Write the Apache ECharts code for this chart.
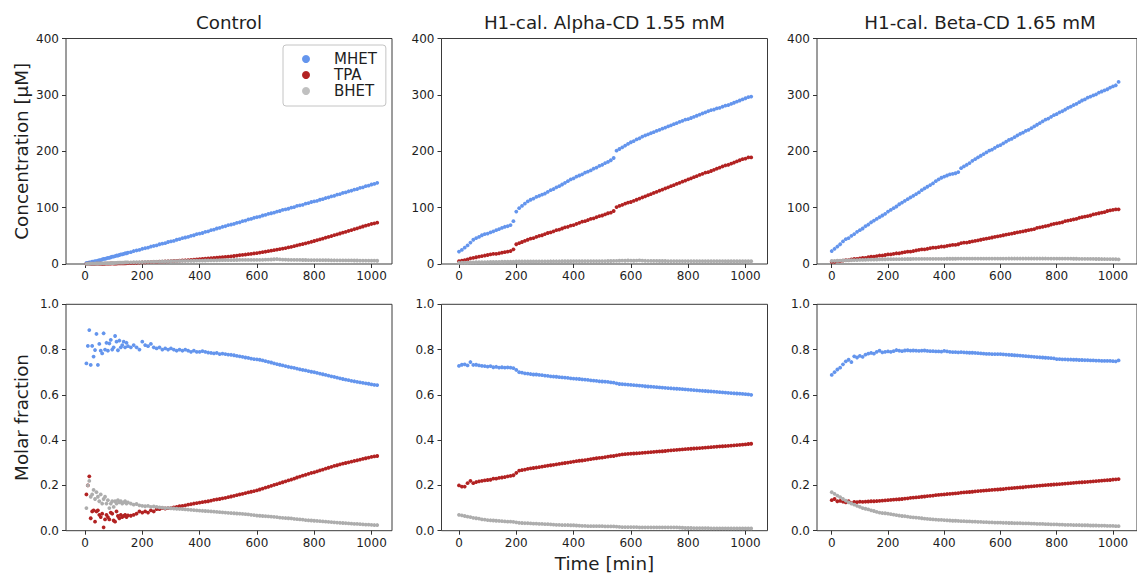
<!DOCTYPE html>
<html><head><meta charset="utf-8">
<script src="https://cdn.jsdelivr.net/npm/echarts@6/dist/echarts.min.js"></script>
<style>html,body{margin:0;padding:0;background:#fff}#c{width:1137px;height:574px}</style>
</head><body><div id="c"></div>
<script>
// ---------------- DATA ----------------
const seriesNames = ['MHET', 'TPA', 'BHET'];
const panelTitles = ['Control', 'H1-cal. Alpha-CD 1.55 mM', 'H1-cal. Beta-CD 1.65 mM'];
const xTickValues = [0, 200, 400, 600, 800, 1000];
const yLabelTop = 'Concentration [μM]';
const yLabelBottom = 'Molar fraction';
const xLabel = 'Time [min]';

const timeControl = [
 5,10,15,20,25,30,35,40,45,50,
 55,60,65,70,75,80,85,90,95,100,
 105,110,115,120,125,130,135,140,145,150,
 160,170,180,190,200,210,220,230,240,250,
 260,270,280,290,300,310,320,330,340,350,
 360,370,380,390,400,410,420,430,440,450,
 460,470,480,490,500,510,520,530,540,550,
 560,570,580,590,600,610,620,630,640,650,
 660,670,680,690,700,710,720,730,740,750,
 760,770,780,790,800,810,820,830,840,850,
 860,870,880,890,900,910,920,930,940,950,
 960,970,980,990,1000,1010,1020];

const timeCD = [
 0,10,20,30,40,50,60,70,80,90,
 100,110,120,130,140,150,160,170,180,190,
 200,210,220,230,240,250,260,270,280,290,
 300,310,320,330,340,350,360,370,380,390,
 400,410,420,430,440,450,460,470,480,490,
 500,510,520,530,540,550,560,570,580,590,
 600,610,620,630,640,650,660,670,680,690,
 700,710,720,730,740,750,760,770,780,790,
 800,810,820,830,840,850,860,870,880,890,
 900,910,920,930,940,950,960,970,980,990,
 1000,1010,1020];

// Control – concentration [µM]
const controlConcMHET = [
 2,2,3,3,4,4,5,5,6,7,
 7,8,9,9,10,11,11,12,13,13,
 14,15,15,16,17,17,18,19,19,20,
 21,23,24,25,27,28,29,31,32,33,
 35,36,37,39,40,41,43,44,46,47,
 48,50,51,53,54,55,57,58,60,61,
 63,64,66,67,69,70,71,73,74,76,
 77,79,80,82,83,84,86,87,89,90,
 91,93,94,96,97,98,100,101,103,104,
 105,107,108,110,111,112,114,115,117,118,
 120,121,123,124,126,127,129,130,132,133,
 135,136,138,139,141,142,144];
const controlConcTPA = [
 0.3,0.5,0.6,0.3,0.4,0.4,0.3,0.5,0.5,0.4,
 0.5,0.3,0.2,0.5,0.7,0.7,0.7,0.9,1.0,0.7,
 0.7,0.9,1.1,1.2,1.1,1.2,1.3,1.3,1.4,1.5,
 1.6,1.8,2.1,2.5,2.9,3.0,3.2,3.4,3.6,3.8,
 4.1,4.3,4.5,4.8,5.0,5.3,5.6,5.9,6.3,6.6,
 7.0,7.4,7.8,8.1,8.5,8.9,9.3,9.8,10.3,10.8,
 11.2,11.7,12.2,12.6,13.0,13.6,14.2,14.9,15.6,16.2,
 16.8,17.4,18.0,18.7,19.4,20.2,21.0,21.8,22.7,23.6,
 24.5,25.4,26.4,27.3,28.3,29.4,30.5,31.7,32.9,34.2,
 35.4,36.7,38.0,39.4,40.8,42.2,43.6,45.1,46.6,48.1,
 49.6,51.1,52.6,54.1,55.6,57.1,58.6,60.1,61.7,63.3,
 64.9,66.5,68.0,69.5,71.0,72.2,73.3];
const controlConcBHET = [
 0.2,0.4,0.6,0.5,0.6,0.8,0.7,0.9,0.9,0.9,
 1.2,1.0,1.2,1.4,1.2,1.5,1.2,1.5,1.7,1.7,
 2.0,2.0,2.3,2.3,2.4,2.4,2.5,2.7,2.8,2.9,
 3.0,3.1,3.2,3.3,3.5,3.6,3.8,3.9,4.0,4.2,
 4.3,4.4,4.6,4.8,4.9,5.0,5.1,5.3,5.4,5.5,
 5.6,5.7,5.8,5.9,6.0,6.1,6.2,6.3,6.4,6.5,
 6.6,6.7,6.8,6.9,7.0,7.0,7.1,7.1,7.2,7.2,
 7.2,7.3,7.3,7.2,7.3,7.4,7.5,7.6,7.8,8.0,
 8.4,8.8,8.2,7.8,7.6,7.5,7.4,7.3,7.3,7.2,
 7.1,7.1,7.0,7.0,7.0,6.9,6.8,6.8,6.7,6.7,
 6.6,6.6,6.5,6.5,6.4,6.4,6.3,6.3,6.2,6.2,
 6.1,6.1,6.0,6.0,5.9,5.9,5.8];

// Control – molar fraction
const controlFracMHET = [
 0.739,0.816,0.886,0.732,0.816,0.769,0.798,0.869,0.732,0.825,
 0.795,0.783,0.872,0.80,0.83,0.795,0.827,0.843,0.80,0.81,
 0.86,0.835,0.797,0.84,0.81,0.82,0.835,0.81,0.83,0.815,
 0.81,0.82,0.81,0.80,0.835,0.82,0.815,0.825,0.81,0.805,
 0.81,0.80,0.805,0.80,0.805,0.80,0.795,0.80,0.795,0.80,
 0.795,0.79,0.795,0.79,0.79,0.793,0.79,0.787,0.785,0.783,
 0.785,0.78,0.782,0.78,0.778,0.777,0.775,0.772,0.77,0.768,
 0.765,0.763,0.76,0.758,0.757,0.755,0.752,0.749,0.746,0.743,
 0.739,0.736,0.733,0.73,0.727,0.724,0.721,0.719,0.716,0.713,
 0.71,0.708,0.705,0.702,0.70,0.697,0.694,0.691,0.688,0.685,
 0.682,0.679,0.676,0.673,0.67,0.667,0.665,0.662,0.66,0.657,
 0.655,0.653,0.651,0.649,0.646,0.644,0.643];
const controlFracTPA = [
 0.16,0.20,0.24,0.055,0.085,0.09,0.04,0.085,0.09,0.07,
 0.06,0.075,0.015,0.05,0.07,0.06,0.05,0.08,0.075,0.045,
 0.04,0.085,0.065,0.055,0.07,0.06,0.065,0.07,0.06,0.068,
 0.066,0.07,0.075,0.085,0.08,0.085,0.08,0.09,0.085,0.095,
 0.095,0.10,0.098,0.10,0.10,0.103,0.105,0.108,0.11,0.112,
 0.115,0.117,0.12,0.122,0.124,0.126,0.128,0.13,0.133,0.136,
 0.138,0.14,0.143,0.145,0.148,0.151,0.154,0.157,0.16,0.163,
 0.166,0.169,0.172,0.175,0.178,0.182,0.186,0.19,0.194,0.198,
 0.202,0.206,0.21,0.214,0.218,0.222,0.226,0.23,0.235,0.239,
 0.243,0.247,0.251,0.255,0.258,0.262,0.266,0.27,0.274,0.278,
 0.282,0.286,0.289,0.293,0.296,0.299,0.302,0.305,0.308,0.311,
 0.314,0.317,0.32,0.323,0.326,0.328,0.33];
const controlFracBHET = [
 0.10,0.20,0.22,0.15,0.16,0.18,0.14,0.17,0.15,0.13,
 0.16,0.12,0.14,0.15,0.12,0.135,0.10,0.12,0.13,0.105,
 0.13,0.12,0.135,0.125,0.13,0.12,0.125,0.13,0.12,0.125,
 0.12,0.115,0.118,0.112,0.11,0.108,0.11,0.105,0.107,0.105,
 0.103,0.102,0.10,0.101,0.099,0.098,0.097,0.096,0.095,0.094,
 0.093,0.092,0.091,0.09,0.089,0.088,0.087,0.086,0.085,0.084,
 0.083,0.082,0.081,0.08,0.079,0.078,0.077,0.076,0.075,0.074,
 0.073,0.072,0.07,0.069,0.067,0.066,0.065,0.064,0.063,0.062,
 0.061,0.06,0.058,0.057,0.056,0.055,0.054,0.052,0.051,0.05,
 0.049,0.047,0.046,0.045,0.044,0.043,0.042,0.041,0.04,0.039,
 0.038,0.037,0.036,0.035,0.034,0.033,0.032,0.031,0.03,0.03,
 0.029,0.028,0.027,0.027,0.026,0.025,0.025];

// Alpha-CD – concentration
const alphaConcMHET = [
 22,25,29,33,38,43,46,48,51,53,
 54,56,58,60,62,64,66,67,69,76,
 93,99,103,107,111,114,116,119,121,123,
 125,128,131,133,136,138,141,144,147,150,
 152,155,157,159,162,164,166,169,171,174,
 176,179,181,184,188,201,204,207,210,213,
 216,218,221,223,226,228,230,232,234,236,
 238,240,242,244,246,248,250,252,254,256,
 257,259,261,263,265,267,269,271,273,274,
 276,277,279,281,282,284,286,288,290,292,
 294,296,297];
const alphaConcTPA = [
 5,6,7,8,10,11,12,13,14,15,
 16,17,18,18,19,20,21,22,23,26,
 35,37,39,41,43,45,46,48,50,51,
 53,55,56,58,60,61,63,65,66,68,
 69,71,73,75,76,78,80,81,83,85,
 86,88,90,91,94,101,103,105,107,109,
 110,112,114,116,118,120,122,124,126,128,
 130,132,134,136,138,140,142,144,146,148,
 150,152,154,156,158,160,162,163,165,167,
 169,171,173,175,176,178,180,182,184,186,
 187,189,189];
const alphaConcBHET = [
 2.1,2.3,2.5,2.6,2.8,3.0,3.1,3.2,3.3,3.4,
 3.5,3.6,3.7,3.8,3.9,4.0,4.0,4.1,4.1,4.2,
 4.4,4.4,4.5,4.5,4.5,4.6,4.6,4.6,4.7,4.7,
 4.7,4.7,4.8,4.8,4.8,4.8,4.9,4.9,4.9,4.9,
 5.0,5.0,5.0,5.0,5.0,5.1,5.1,5.1,5.1,5.2,
 5.2,5.2,5.3,5.3,5.4,5.6,5.8,6.0,5.8,6.2,
 5.9,5.8,6.1,6.3,5.9,5.7,5.6,5.5,5.4,5.4,
 5.3,5.3,5.3,5.2,5.2,5.2,5.2,5.1,5.1,5.1,
 5.1,5.1,5.0,5.0,5.0,5.0,5.0,5.0,5.0,5.0,
 5.0,5.0,5.0,4.9,4.9,4.9,4.9,4.9,4.9,4.9,
 4.9,4.9,4.9];

// Alpha-CD – molar fraction
const alphaFracMHET = [
 0.728,0.733,0.735,0.73,0.745,0.732,0.733,0.73,0.728,0.727,
 0.725,0.727,0.722,0.724,0.72,0.722,0.72,0.721,0.72,0.718,
 0.71,0.70,0.698,0.695,0.694,0.692,0.69,0.69,0.688,0.687,
 0.685,0.684,0.682,0.681,0.68,0.678,0.677,0.676,0.675,0.673,
 0.672,0.671,0.67,0.668,0.667,0.666,0.664,0.663,0.662,0.66,
 0.659,0.658,0.657,0.655,0.654,0.651,0.648,0.647,0.646,0.645,
 0.644,0.643,0.642,0.641,0.64,0.638,0.637,0.636,0.635,0.634,
 0.633,0.632,0.631,0.63,0.629,0.628,0.627,0.626,0.625,0.624,
 0.623,0.622,0.621,0.62,0.619,0.618,0.617,0.616,0.615,0.614,
 0.613,0.612,0.611,0.61,0.609,0.608,0.607,0.606,0.605,0.604,
 0.603,0.602,0.60];
const alphaFracTPA = [
 0.20,0.195,0.195,0.21,0.22,0.21,0.215,0.218,0.22,0.222,
 0.224,0.225,0.23,0.23,0.233,0.235,0.237,0.24,0.242,0.245,
 0.255,0.265,0.268,0.27,0.273,0.275,0.277,0.279,0.281,0.283,
 0.285,0.287,0.289,0.291,0.293,0.295,0.297,0.299,0.301,0.303,
 0.305,0.307,0.309,0.31,0.312,0.314,0.316,0.318,0.32,0.322,
 0.323,0.325,0.327,0.329,0.33,0.333,0.335,0.337,0.338,0.339,
 0.34,0.341,0.342,0.343,0.344,0.345,0.346,0.347,0.348,0.349,
 0.35,0.351,0.352,0.354,0.355,0.356,0.357,0.358,0.359,0.36,
 0.361,0.362,0.363,0.364,0.365,0.366,0.367,0.368,0.369,0.37,
 0.371,0.372,0.373,0.374,0.375,0.376,0.377,0.378,0.379,0.38,
 0.381,0.383,0.384];
const alphaFracBHET = [
 0.07,0.068,0.065,0.062,0.06,0.057,0.055,0.053,0.05,0.049,
 0.047,0.046,0.045,0.044,0.043,0.042,0.041,0.04,0.04,0.039,
 0.037,0.035,0.034,0.033,0.033,0.032,0.031,0.031,0.03,0.03,
 0.029,0.029,0.028,0.027,0.026,0.026,0.025,0.025,0.025,0.024,
 0.024,0.023,0.022,0.021,0.021,0.02,0.02,0.02,0.02,0.02,
 0.02,0.019,0.019,0.019,0.019,0.018,0.017,0.016,0.016,0.016,
 0.016,0.016,0.016,0.015,0.015,0.015,0.015,0.015,0.015,0.015,
 0.015,0.015,0.015,0.015,0.015,0.015,0.015,0.014,0.013,0.012,
 0.012,0.012,0.011,0.011,0.011,0.011,0.011,0.011,0.01,0.01,
 0.01,0.01,0.01,0.01,0.01,0.01,0.01,0.01,0.01,0.01,
 0.01,0.01,0.01];

// Beta-CD – concentration
const betaConcMHET = [
 23,27,31,35,40,44,46,50,53,57,
 60,63,67,70,74,77,80,83,86,89,
 93,96,99,102,106,109,112,115,118,121,
 124,127,131,134,137,140,143,147,150,153,
 155,157,159,160,161,163,170,173,176,179,
 183,186,189,192,195,198,201,203,206,209,
 211,214,217,220,222,225,228,231,233,236,
 238,241,244,247,250,253,256,258,261,264,
 266,269,271,274,277,279,282,284,287,290,
 292,295,297,299,301,304,306,308,310,313,
 315,317,323];
const betaConcTPA = [
 4,4,5,5,6,7,7,8,9,9,
 10,11,11,12,13,13,14,15,15,16,
 17,17,18,19,19,20,21,22,22,23,
 24,25,26,26,27,28,29,29,30,31,
 31,32,33,34,34,35,37,38,38,39,
 40,41,42,43,44,45,46,47,48,49,
 50,51,52,53,54,55,56,57,58,59,
 60,61,62,64,65,66,67,68,70,71,
 72,73,74,76,77,78,79,80,82,83,
 84,85,86,88,89,90,91,92,94,95,
 96,97,97];
const betaConcBHET = [
 5.4,5.6,5.8,6.0,6.2,6.4,6.5,6.7,6.9,7.0,
 7.2,7.3,7.5,7.6,7.7,7.9,8.0,8.1,8.3,8.4,
 8.5,8.6,8.6,8.7,8.7,8.8,8.8,8.9,8.9,9.0,
 9.0,9.0,9.1,9.1,9.1,9.1,9.2,9.2,9.2,9.2,
 9.2,9.3,9.3,9.3,9.3,9.4,9.4,9.4,9.4,9.4,
 9.5,9.5,9.5,9.5,9.5,9.5,9.6,9.6,9.6,9.6,
 9.6,9.6,9.6,9.7,9.7,9.7,9.7,9.7,9.7,9.7,
 9.7,9.7,9.7,9.7,9.7,9.7,9.7,9.6,9.6,9.6,
 9.6,9.5,9.5,9.5,9.4,9.4,9.3,9.3,9.2,9.2,
 9.1,9.1,9.0,9.0,8.9,8.9,8.8,8.8,8.7,8.7,
 8.6,8.5,8.3];

// Beta-CD – molar fraction
const betaFracMHET = [
 0.688,0.70,0.712,0.72,0.735,0.748,0.755,0.745,0.77,0.765,
 0.772,0.768,0.778,0.782,0.785,0.782,0.79,0.795,0.788,0.79,
 0.792,0.79,0.793,0.798,0.795,0.793,0.796,0.797,0.795,0.796,
 0.795,0.794,0.795,0.796,0.794,0.793,0.793,0.792,0.792,0.791,
 0.794,0.792,0.79,0.789,0.789,0.788,0.789,0.788,0.787,0.786,
 0.786,0.785,0.784,0.783,0.782,0.781,0.781,0.78,0.78,0.78,
 0.78,0.779,0.778,0.777,0.776,0.775,0.774,0.773,0.772,0.771,
 0.77,0.769,0.768,0.767,0.766,0.765,0.764,0.763,0.762,0.761,
 0.758,0.758,0.757,0.757,0.756,0.756,0.755,0.755,0.754,0.754,
 0.753,0.753,0.752,0.752,0.751,0.751,0.75,0.75,0.75,0.75,
 0.749,0.748,0.752];
const betaFracTPA = [
 0.135,0.14,0.13,0.132,0.128,0.125,0.13,0.122,0.127,0.126,
 0.128,0.127,0.128,0.129,0.13,0.13,0.131,0.132,0.133,0.134,
 0.135,0.136,0.137,0.138,0.139,0.14,0.142,0.143,0.145,0.146,
 0.147,0.148,0.15,0.151,0.153,0.154,0.155,0.157,0.158,0.159,
 0.16,0.162,0.163,0.164,0.165,0.166,0.168,0.169,0.17,0.171,
 0.172,0.174,0.175,0.176,0.177,0.178,0.179,0.18,0.181,0.182,
 0.183,0.184,0.186,0.187,0.188,0.189,0.19,0.191,0.192,0.194,
 0.195,0.196,0.197,0.198,0.199,0.2,0.201,0.202,0.203,0.204,
 0.205,0.206,0.207,0.208,0.209,0.21,0.211,0.212,0.213,0.214,
 0.215,0.216,0.217,0.218,0.219,0.22,0.221,0.222,0.223,0.224,
 0.226,0.227,0.228];
const betaFracBHET = [
 0.17,0.163,0.155,0.148,0.14,0.133,0.125,0.12,0.115,0.11,
 0.105,0.1,0.097,0.094,0.09,0.087,0.083,0.08,0.078,0.077,
 0.075,0.073,0.071,0.069,0.067,0.065,0.064,0.062,0.06,0.059,
 0.058,0.057,0.055,0.053,0.052,0.051,0.05,0.049,0.048,0.048,
 0.047,0.046,0.045,0.044,0.044,0.043,0.042,0.042,0.041,0.041,
 0.04,0.04,0.039,0.039,0.038,0.038,0.037,0.037,0.036,0.036,
 0.036,0.035,0.035,0.034,0.034,0.033,0.033,0.033,0.032,0.032,
 0.032,0.031,0.031,0.03,0.03,0.03,0.029,0.029,0.028,0.028,
 0.028,0.027,0.027,0.026,0.026,0.026,0.025,0.025,0.025,0.024,
 0.024,0.024,0.023,0.023,0.023,0.022,0.022,0.022,0.021,0.021,
 0.021,0.02,0.02];

// ---------------- STYLE / LAYOUT ----------------
const FONT = '"DejaVu Sans", "Liberation Sans", sans-serif';
const TXT = '#1e1e1e';
const colors = { MHET: '#6495ED', TPA: '#B22222', BHET: '#ADADAD' };
const colLeft = [66, 441.5, 817];
const colWidth = 326;
const rowTop = [38.5, 304.3];
const rowHeight = [225.5, 226.4];
const xLimits = [[-66.3, 1071.6], [-61, 1076.9], [-52.4, 1085.5]];

const panels = [
  { time: timeControl, vals: [controlConcMHET, controlConcTPA, controlConcBHET] },
  { time: timeCD, vals: [alphaConcMHET, alphaConcTPA, alphaConcBHET] },
  { time: timeCD, vals: [betaConcMHET, betaConcTPA, betaConcBHET] },
  { time: timeControl, vals: [controlFracMHET, controlFracTPA, controlFracBHET] },
  { time: timeCD, vals: [alphaFracMHET, alphaFracTPA, alphaFracBHET] },
  { time: timeCD, vals: [betaFracMHET, betaFracTPA, betaFracBHET] }
];

const grid = [], xAxis = [], yAxis = [], series = [];
panels.forEach((p, i) => {
  const r = Math.floor(i / 3), c = i % 3;
  grid.push({ left: colLeft[c], top: rowTop[r], width: colWidth, height: rowHeight[r],
    show: true, borderColor: '#3a3a3a', borderWidth: 1, backgroundColor: 'transparent' });
  xAxis.push({ type: 'value', gridIndex: i, min: xLimits[c][0], max: xLimits[c][1],
    axisLine: { show: false, onZero: false }, splitLine: { show: false },
    axisTick: { show: true, length: 4, lineStyle: { color: '#333', width: 1 }, customValues: xTickValues },
    axisLabel: { customValues: xTickValues, margin: 6, fontSize: 12, color: TXT, fontFamily: FONT,
      formatter: v => String(Math.round(v)) }
  });
  const top = r === 0;
  yAxis.push({ type: 'value', gridIndex: i, min: 0, max: top ? 400 : 1, interval: top ? 100 : 0.2,
    axisLine: { show: false, onZero: false }, splitLine: { show: false },
    axisTick: { show: true, length: 4, lineStyle: { color: '#333', width: 1 } },
    axisLabel: { margin: 7, fontSize: 12, color: TXT, fontFamily: FONT,
      formatter: top ? (v => String(Math.round(v))) : (v => v.toFixed(1)) }
  });
  seriesNames.forEach((name, k) => {
    series.push({ type: 'scatter', name, xAxisIndex: i, yAxisIndex: i,
      symbol: 'circle', symbolSize: 3.8, silent: true,
      itemStyle: { color: colors[name], opacity: 1 },
      data: p.time.map((t, j) => [t, p.vals[k][j]]) });
  });
});

const txtStyle = (text) => ({ text, fill: TXT, font: '18.3px ' + FONT,
  textAlign: 'center', textVerticalAlign: 'middle', align: 'center', verticalAlign: 'middle' });
const graphic = [];
panelTitles.forEach((t, c) => {
  graphic.push({ type: 'text', x: colLeft[c] + colWidth / 2, y: 22, style: txtStyle(t) });
});
graphic.push({ type: 'text', x: 21, y: rowTop[0] + rowHeight[0] / 2, rotation: Math.PI / 2, style: txtStyle(yLabelTop) });
graphic.push({ type: 'text', x: 21, y: rowTop[1] + rowHeight[1] / 2, rotation: Math.PI / 2, style: txtStyle(yLabelBottom) });
graphic.push({ type: 'text', x: colLeft[1] + colWidth / 2, y: 563, style: txtStyle(xLabel) });

const chart = echarts.init(document.getElementById('c'), null, { renderer: 'svg', width: 1137, height: 574 });
chart.setOption({
  animation: false,
  backgroundColor: '#ffffff',
  grid, xAxis, yAxis, series, graphic,
  legend: {
    left: 283, top: 45, orient: 'vertical', icon: 'circle',
    itemWidth: 8, itemHeight: 8, itemGap: 0,
    padding: [6, 9, 7, 19],
    backgroundColor: 'rgba(255,255,255,0.85)', borderColor: '#c4c4c4', borderWidth: 1, borderRadius: 3,
    selectedMode: false,
    textStyle: { fontSize: 15, color: TXT, fontFamily: FONT, lineHeight: 16, padding: [0, 0, 0, 19] },
    data: [{ name: 'MHET' }, { name: 'TPA' }, { name: 'BHET', itemStyle: { color: '#c0c0c0' } }]
  }
});
</script>
</body></html>
